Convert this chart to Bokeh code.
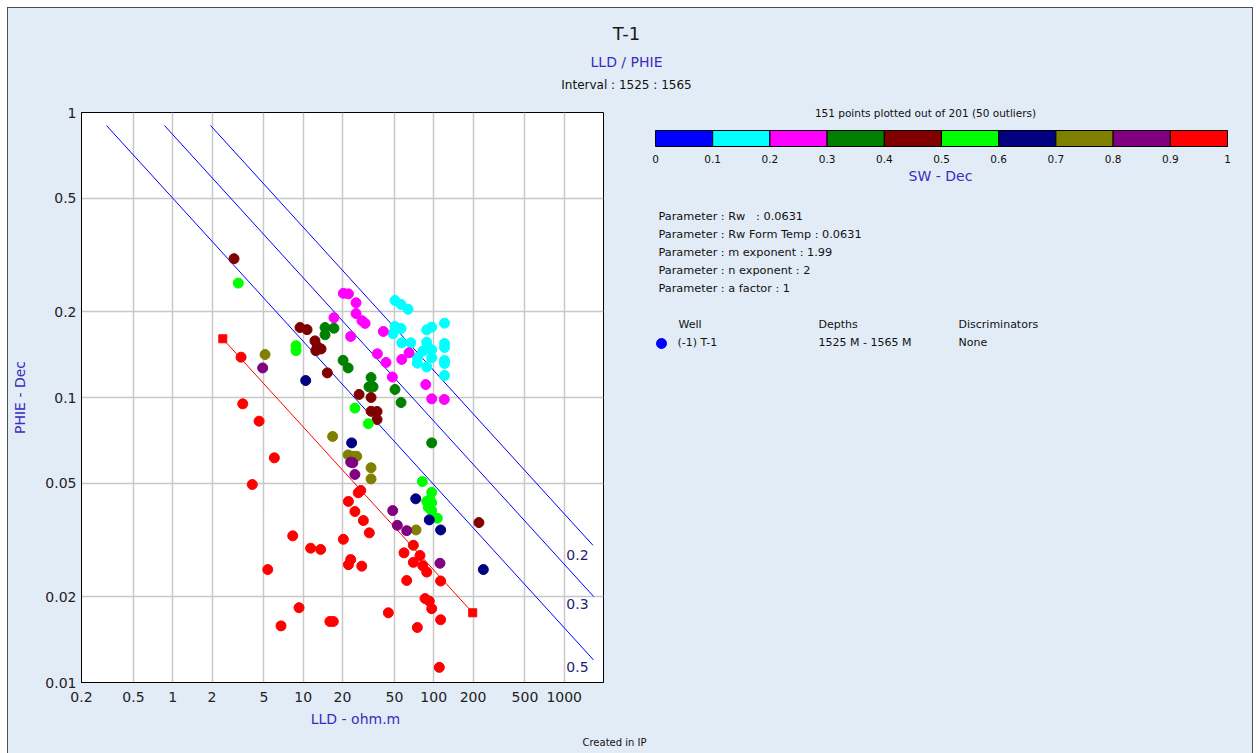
from bokeh.plotting import figure
from bokeh.models import FixedTicker, NumeralTickFormatter, ColumnDataSource, Range1d, Spacer
from bokeh.layouts import column, row
from bokeh.core.properties import value
from bokeh.embed import file_html
from bokeh.resources import INLINE

# ---------------- data ----------------
MAROON_LLD = [2.95, 9.45, 10.7, 12.3, 12.8, 13.7, 12.5, 15.3, 26.8, 33.1, 33.1, 36.8, 36.8, 222]
MAROON_PHIE = [0.307, 0.176, 0.173, 0.158, 0.151, 0.148, 0.146, 0.122, 0.1025, 0.100, 0.0895, 0.0893, 0.0837, 0.0364]
GREEN_LLD = [14.7, 14.7, 17.2, 20.2, 22.1, 33.1, 31.9, 34.3, 50.5, 56.2, 96.5]
GREEN_PHIE = [0.176, 0.166, 0.175, 0.135, 0.127, 0.1175, 0.109, 0.109, 0.1067, 0.096, 0.0693]
MAGENTA_LLD = [20.3, 22.2, 25.4, 25.4, 28.2, 29.8, 17.2, 41.1, 23.1, 37.0, 43.1, 56.9, 64.7, 48.2, 86.9, 96.5, 120.5]
MAGENTA_PHIE = [0.232, 0.231, 0.215, 0.197, 0.186, 0.182, 0.1905, 0.1705, 0.1637, 0.1423, 0.1327, 0.136, 0.1435, 0.118, 0.111, 0.0989, 0.0984]
CYAN_LLD = [50.5, 56.2, 63.6, 50.5, 56.2, 48.8, 56.9, 66.7, 88.4, 96.5, 121, 88.4, 82.4, 96.5, 96.5, 74.9, 74.9,
            121, 121, 121, 121, 121, 88.4]
CYAN_PHIE = [0.219, 0.212, 0.204, 0.1775, 0.1745, 0.1674, 0.1555, 0.1555, 0.1727, 0.1766, 0.1823, 0.1563, 0.1454,
             0.147, 0.1378, 0.1378, 0.132, 0.1547, 0.1497, 0.1348, 0.1316, 0.1195, 0.128]
LIME_LLD = [3.18, 8.81, 8.81, 24.9, 31.5, 81.8, 96.5, 93.7, 88.4, 96.5, 90.9, 96.5, 106.6]
LIME_PHIE = [0.252, 0.152, 0.146, 0.0918, 0.0809, 0.0507, 0.0465, 0.0439, 0.0432, 0.0427, 0.0412, 0.0401, 0.0377]
NAVY_LLD = [10.45, 23.5, 72.8, 92.5, 113, 240]
NAVY_PHIE = [0.1147, 0.0693, 0.0441, 0.0372, 0.0343, 0.0249]
OLIVE_LLD = [5.10, 16.8, 22.1, 24.2, 25.7, 33.1, 33.1, 73.2]
OLIVE_PHIE = [0.1415, 0.073, 0.0629, 0.0622, 0.0622, 0.0567, 0.0518, 0.0343]
PURPLE_LLD = [4.89, 23.1, 24.0, 24.9, 48.5, 52.6, 62.1, 111.7]
PURPLE_PHIE = [0.127, 0.0593, 0.0590, 0.0537, 0.0401, 0.0356, 0.0341, 0.0262]
RED_LLD = [3.44, 4.59, 6.01, 4.07, 8.31, 11.4, 13.6, 5.35, 9.29, 6.76, 16.0, 17.0, 3.34,
           26.4, 27.6, 22.2, 24.9, 28.9, 32.1, 20.3, 23.1, 22.2, 28.1, 69.8, 59.2, 78.5, 69.8, 82.4, 88.4,
           62.1, 113, 44.9, 85.8, 92.5, 96.5, 113, 74.9, 110.4]
RED_PHIE = [0.095, 0.0826, 0.0614, 0.0495, 0.0327, 0.0296, 0.0293, 0.0249, 0.0183, 0.0158, 0.01637, 0.01637, 0.1385,
            0.0463, 0.0472, 0.0432, 0.0398, 0.037, 0.0335, 0.0318, 0.027, 0.0259, 0.0256, 0.0303, 0.0285, 0.0279,
            0.0264, 0.0257, 0.0244, 0.0228, 0.0227, 0.01756, 0.0197, 0.0193, 0.01815, 0.0166, 0.0156, 0.0113]

GROUPS = [  # (estimated SW, LLD list, PHIE list)
    (0.15, CYAN_LLD, CYAN_PHIE),
    (0.25, MAGENTA_LLD, MAGENTA_PHIE),
    (0.35, GREEN_LLD, GREEN_PHIE),
    (0.45, MAROON_LLD, MAROON_PHIE),
    (0.55, LIME_LLD, LIME_PHIE),
    (0.65, NAVY_LLD, NAVY_PHIE),
    (0.75, OLIVE_LLD, OLIVE_PHIE),
    (0.85, PURPLE_LLD, PURPLE_PHIE),
    (0.95, RED_LLD, RED_PHIE),
]

SW_BINS = [0.0, 0.1, 0.2, 0.3, 0.4, 0.5, 0.6, 0.7, 0.8, 0.9, 1.0]
SW_COLORS = ["#0000ff", "#00ffff", "#ff00ff", "#008000", "#800000",
             "#00ff00", "#000080", "#808000", "#800080", "#ff0000"]
SW_TICK_LABELS = ["0", "0.1", "0.2", "0.3", "0.4", "0.5", "0.6", "0.7", "0.8", "0.9", "1"]

X_TICKS = [0.2, 0.5, 1, 2, 5, 10, 20, 50, 100, 200, 500, 1000]
Y_TICKS = [0.01, 0.02, 0.05, 0.1, 0.2, 0.5, 1]

# Archie Sw iso-lines (end points)
SW_LINE_NAMES = ["0.2", "0.3", "0.5"]
SW_LINE_LLD = [[1.95, 1660], [0.865, 1686], [0.311, 1677]]
SW_LINE_PHIE = [[0.9, 0.0303], [0.9, 0.0200], [0.9, 0.0120]]
SW1_LLD = [2.42, 199]
SW1_PHIE = [0.1607, 0.01756]

PARAM_LINES = ["Parameter : Rw\u00a0\u00a0\u00a0: 0.0631",
               "Parameter : Rw Form Temp : 0.0631",
               "Parameter : m exponent : 1.99",
               "Parameter : n exponent : 2",
               "Parameter : a factor : 1"]
LEGEND_HEAD = ["Well", "Depths", "Discriminators"]
LEGEND_ROW = ["(-1) T-1", "1525 M - 1565 M", "None"]

# ---------------- styling ----------------
PANEL = "#e2ecf6"
BLUEPURPLE = "#3a2dbd"
FONT = "DejaVu Sans"


def blank(w, h, xr, yr):
    f = figure(width=w, height=h, x_range=xr, y_range=yr, min_border=0,
               x_axis_location=None, y_axis_location=None, title=None,
               output_backend="svg", toolbar_location=None)
    f.grid.visible = False
    f.outline_line_color = None
    f.background_fill_color = PANEL
    f.border_fill_color = PANEL
    return f


def put(f, x, y, text, size, col="#111111", align="left", angle=0.0):
    f.text(x=[x], y=[y], text=[text], text_font=value(FONT), text_font_size=size,
           text_color=col, text_align=align, text_baseline="middle", angle=angle)


# ---- top strip (page y 8..104), coordinates in page px ----
top = blank(1244, 96, Range1d(8, 1252), Range1d(104, 8))
put(top, 626, 33, "T-1", "18px", "#1a1a1a", "center")
put(top, 626, 61, "LLD / PHIE", "14px", BLUEPURPLE, "center")
put(top, 626, 84, "Interval : 1525 : 1565", "12px", "#111111", "center")

# ---- main log-log plot (page x 8..615, y 104..712) ----
src_lld, src_phie, src_col = [], [], []
for sw, xs, ys in GROUPS:
    k = min(int(sw * 10), 9)
    for x, y in zip(xs, ys):
        src_lld.append(x)
        src_phie.append(y)
        src_col.append(SW_COLORS[k])
src = ColumnDataSource(dict(lld=src_lld, phie=src_phie, color=src_col))

p = figure(width=607, height=608, x_axis_type="log", y_axis_type="log",
           x_range=Range1d(0.2, 2000), y_range=Range1d(0.01, 1), title=None,
           min_border_left=73, min_border_right=12, min_border_top=8, min_border_bottom=30,
           output_backend="svg", toolbar_location=None)
p.border_fill_color = PANEL
p.background_fill_color = "white"
p.outline_line_color = "black"
p.outline_line_width = 1
p.xaxis.ticker = FixedTicker(ticks=X_TICKS, minor_ticks=[])
p.yaxis.ticker = FixedTicker(ticks=Y_TICKS, minor_ticks=[])
for ax in (p.xaxis[0], p.yaxis[0]):
    ax.formatter = NumeralTickFormatter(format="0.[00]")
    ax.major_tick_in = 0
    ax.major_tick_out = 0
    ax.minor_tick_line_color = None
    ax.axis_line_color = "black"
    ax.major_label_text_font = FONT
    ax.major_label_text_font_size = "14px"
    ax.major_label_text_color = "#222222"
p.xaxis.major_label_standoff = 9
p.yaxis.major_label_standoff = 5
p.yaxis.axis_label = "PHIE - Dec"
p.yaxis.axis_label_text_font = FONT
p.yaxis.axis_label_text_font_size = "14px"
p.yaxis.axis_label_text_font_style = "normal"
p.yaxis.axis_label_text_color = BLUEPURPLE
p.yaxis.axis_label_standoff = 14
p.grid.grid_line_color = "#c8c8c8"
p.grid.grid_line_width = 1.5

p.multi_line(xs=SW_LINE_LLD, ys=SW_LINE_PHIE, line_color="#0000ff", line_width=1)
p.line(SW1_LLD, SW1_PHIE, line_color="#ff0000", line_width=1)
p.scatter(SW1_LLD, SW1_PHIE, marker="square", size=8, color="#ff0000")
p.scatter(x="lld", y="phie", source=src, size=10, color="color")

label_y = [0.0281, 0.0188, 0.0113]
p.text(x=[1262] * 3, y=label_y, text=SW_LINE_NAMES, text_font=value(FONT), text_font_size="14px",
       text_color="#1e1e6e", text_align="center", text_baseline="middle")

# ---- right panel (page x 615..1252, y 104..712); x in SW units of the colour bar ----
CB_X0, CB_W = 655.0, 572.0


def rx(px):
    return (px - CB_X0) / CB_W


r = blank(637, 608, Range1d(rx(615), rx(1252)), Range1d(712, 104))
put(r, rx(925), 112, "151 points plotted out of 201 (50 outliers)", "10.5px", "#111111", "center")
r.quad(left=SW_BINS[:-1], right=SW_BINS[1:], top=130, bottom=146, fill_color=SW_COLORS,
       line_color="black", line_width=1)
r.text(x=SW_BINS, y=[158] * len(SW_BINS), text=SW_TICK_LABELS, text_font=value(FONT),
       text_font_size="10.5px", text_color="#111111", text_align="center", text_baseline="middle")
put(r, rx(940), 175, "SW - Dec", "14px", BLUEPURPLE, "center")
for i, line in enumerate(PARAM_LINES):
    put(r, rx(658), 216 + i * 18, line, "11.3px")
for xp, t in zip([678, 818, 958], LEGEND_HEAD):
    put(r, rx(xp), 324, t, "11px")
for xp, t in zip([677, 818, 958], LEGEND_ROW):
    put(r, rx(xp), 342, t, "11px")
r.scatter(x=[rx(661)], y=[343], size=10, color="#0000ff")

# ---- bottom strip (page y 712..753) ----
bot = blank(1244, 41, Range1d(8, 1252), Range1d(753, 712))
put(bot, 355, 718, "LLD - ohm.m", "14px", BLUEPURPLE, "center")
put(bot, 614, 742, "Created in IP", "10px", "#111111", "center")

# each plot wrapped in its own column so that their frames are laid out independently
middle = row(column(p), column(r), styles={"background-color": PANEL})
inner = column(top, middle, bot,
               styles={"outline": "1px solid #505050", "background-color": PANEL})
page = column(Spacer(height=8), row(Spacer(width=8), inner))

open("out.html", "w").write(file_html(page, INLINE))
